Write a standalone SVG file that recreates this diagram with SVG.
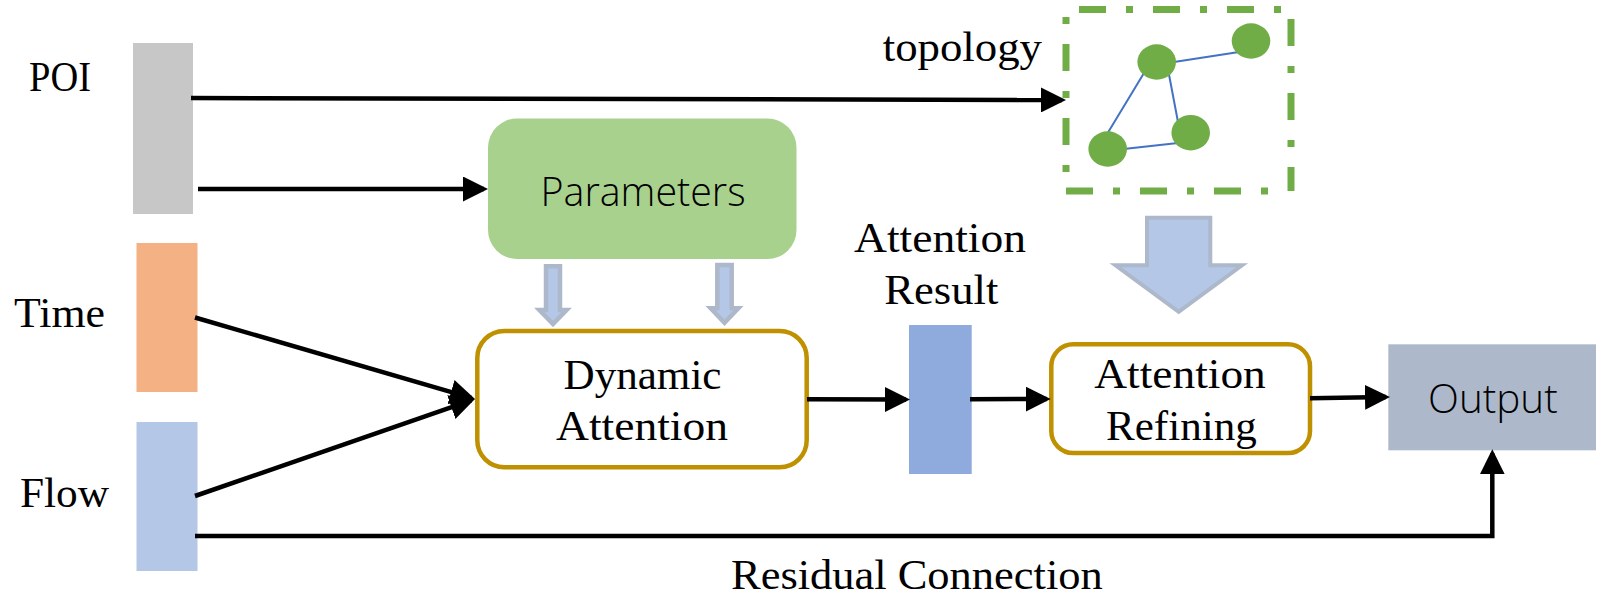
<svg xmlns="http://www.w3.org/2000/svg" width="1614" height="598" viewBox="0 0 1614 598">
<style>
text{fill:#000}
.s{font-family:"Liberation Serif",serif;font-size:43px}
.c{font-family:"Open Sans","Liberation Sans",sans-serif;font-size:41px;font-weight:300}
.l{fill:none;stroke:#000;stroke-width:4.500}
.box{fill:#fff;stroke:#bf9000;stroke-width:4.500}
.blk{fill:#b4c7e7;stroke:#adb9ca;stroke-width:4}
.e{stroke:#4472c4;stroke-width:2;fill:none}
.n{fill:#70ad47}
.d{fill:none;stroke:#70ad47;stroke-width:7}
</style>
<defs>
<marker id="a" markerUnits="userSpaceOnUse" markerWidth="25" markerHeight="25" refX="21" refY="12.500" orient="auto" viewBox="0 0 25 25"><path d="M0 0L25 12.500L0 25Z" fill="#000"/></marker>
</defs>
<g id="poi"><rect x="133" y="43" width="60" height="171" fill="#c7c7c7"/><text class="s" x="29" y="91" textLength="62" lengthAdjust="spacingAndGlyphs">POI</text></g>
<g id="time"><rect x="136.500" y="243" width="61" height="149" fill="#f4b183"/><text class="s" x="14" y="327" textLength="91" lengthAdjust="spacingAndGlyphs">Time</text></g>
<g id="flow"><rect x="136.500" y="422" width="61" height="149" fill="#b4c7e7"/><text class="s" x="20" y="507" textLength="89" lengthAdjust="spacingAndGlyphs">Flow</text></g>
<g id="parameters"><rect x="488" y="118.500" width="308.500" height="140.500" rx="29" fill="#a9d18e"/><text class="c" x="540.500" y="205.500" textLength="205" lengthAdjust="spacingAndGlyphs">Parameters</text></g>
<g id="param-arrows">
<path class="blk" style="stroke-width:4.500" d="M546 266.300H560V310H566.600L553 324.100L539.400 310H546Z"/>
<path class="blk" style="stroke-width:4.500" d="M717.300 265H731.700V308.300H738.300L724.500 322.800L710.700 308.300H717.300Z"/>
</g>
<g id="dynamic-attention"><rect class="box" x="477.300" y="331" width="329.400" height="136.300" rx="27"/><text class="s" x="563.500" y="389" textLength="158" lengthAdjust="spacingAndGlyphs">Dynamic</text><text class="s" x="556" y="440" textLength="172" lengthAdjust="spacingAndGlyphs">Attention</text></g>
<g id="attention-result"><rect x="909" y="325" width="62.700" height="149" fill="#8faadc"/><text class="s" x="854" y="252.300" textLength="172" lengthAdjust="spacingAndGlyphs">Attention</text><text class="s" x="884.300" y="304.300" textLength="114" lengthAdjust="spacingAndGlyphs">Result</text></g>
<g id="attention-refining"><rect class="box" x="1051.300" y="344.300" width="258.700" height="108.700" rx="22"/><text class="s" x="1094.300" y="388.300" textLength="171.500" lengthAdjust="spacingAndGlyphs">Attention</text><text class="s" x="1106" y="440" textLength="150.700" lengthAdjust="spacingAndGlyphs">Refining</text></g>
<g id="output"><rect x="1388.300" y="344.300" width="207.700" height="106" fill="#adb9ca"/><text class="c" x="1428" y="413.300" textLength="129.700" lengthAdjust="spacingAndGlyphs">Output</text></g>
<g id="topology">
<text class="s" x="882.700" y="60.700" textLength="159.300" lengthAdjust="spacingAndGlyphs">topology</text>
<path class="d" stroke-dasharray="27 20 7 20" d="M1079 9.500H1281M1066 191H1268M1291 19V191"/>
<path class="d" stroke-dasharray="7 20 27 20" d="M1066 17V172"/>
<path class="e" d="M1174 62L1239 52M1144 73L1107.700 133M1168.700 73L1178 122M1126 148.700L1178 143"/>
<ellipse class="n" cx="1156.700" cy="62" rx="19.300" ry="17.700"/>
<ellipse class="n" cx="1251" cy="41" rx="19.300" ry="17.700"/>
<ellipse class="n" cx="1190.700" cy="132.700" rx="19.300" ry="17.700"/>
<ellipse class="n" cx="1107.700" cy="149" rx="19.300" ry="17.700"/>
</g>
<g id="topology-arrow"><path class="blk" d="M1147 217.700H1210.300V265.300H1242L1178.700 311.800L1115.500 265.300H1147Z"/></g>
<g id="residual"><text class="s" x="731" y="589" textLength="371.700" lengthAdjust="spacingAndGlyphs">Residual Connection</text></g>
<g id="connectors">
<path class="l" d="M191 98L1062 100" marker-end="url(#a)"/>
<path class="l" d="M198 189L484 189" marker-end="url(#a)"/>
<path class="l" d="M195 317.500L471.200 397.900" marker-end="url(#a)"/>
<path class="l" d="M195 496L471.200 400.300" marker-end="url(#a)"/>
<path class="l" d="M807 399.300L906 399.600" marker-end="url(#a)"/>
<path class="l" d="M970 399.300L1046.700 399" marker-end="url(#a)"/>
<path class="l" d="M1310 398.300L1386 397" marker-end="url(#a)"/>
<path class="l" d="M195 536H1492.300V453.300" marker-end="url(#a)"/>
</g>
</svg>
